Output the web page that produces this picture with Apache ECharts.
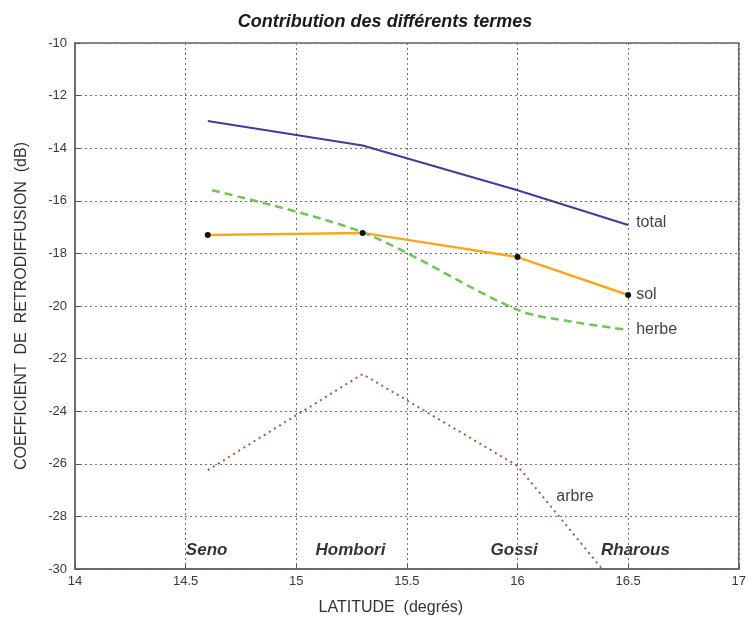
<!DOCTYPE html>
<html><head><meta charset="utf-8">
<script src="https://cdn.jsdelivr.net/npm/echarts@6/dist/echarts.min.js"></script>
<style>html,body{margin:0;padding:0;background:#fff}#c{width:749px;height:624px}</style>
</head><body><div id="c"></div>
<script>
const latitudes = [14.6, 15.3, 16.0, 16.5];
const total = [-12.97, -13.9, -15.6, -16.92];
const sol = [-17.3, -17.22, -18.14, -19.58];
const herbeLat = [14.62, 15.3, 16.0, 16.25, 16.5];
const herbe = [-15.6, -17.2, -20.15, -20.6, -20.91];
const arbre = [-26.24, -22.59, -26.08, -31.2];
const sites = ['Seno', 'Hombori', 'Gossi', 'Rharous'];
const siteLat = [14.595, 15.245, 15.985, 16.533];
const siteY = -29.28;
const xTicks = {min: 14, max: 17, step: 0.5};
const yTicks = {min: -30, max: -10, step: 2};

const font = 'Liberation Sans, Arial, sans-serif';
const zip = (xs, ys) => xs.map((x, i) => [x, ys[i]]);

const chart = echarts.init(document.getElementById('c'));
chart.setOption({
  animation: false,
  backgroundColor: '#fff',
  title: {
    text: 'Contribution des différents termes', left: 380, textAlign: 'center', top: 8,
    textStyle: {fontFamily: font, fontSize: 18, fontWeight: 'bold', fontStyle: 'italic', color: '#1a1a1a'}
  },
  grid: {left: 75, right: 6, top: 43, bottom: 55, show: true, borderColor: '#666', borderWidth: 1.5},
  xAxis: {
    type: 'value', min: xTicks.min, max: xTicks.max, interval: xTicks.step,
    name: 'LATITUDE  (degrés)', nameLocation: 'middle', nameGap: 31,
    nameTextStyle: {fontFamily: font, fontSize: 16, color: '#333', padding: [0, 32, 0, 0]},
    axisLine: {show: true, onZero: false, lineStyle: {color: '#666', width: 1.5}},
    axisTick: {show: true, inside: true, length: 5, lineStyle: {color: '#555'}},
    axisLabel: {fontFamily: font, fontSize: 13, color: '#3a3a3a', margin: 6,
      formatter: v => String(Math.round(v * 10) / 10)},
    splitLine: {show: true, lineStyle: {type: [2, 3], color: '#707070', width: 1}}
  },
  yAxis: {
    type: 'value', min: yTicks.min, max: yTicks.max, interval: yTicks.step,
    name: 'COEFFICIENT  DE  RETRODIFFUSION  (dB)', nameLocation: 'middle', nameGap: 45,
    nameTextStyle: {fontFamily: font, fontSize: 16, color: '#333'},
    axisLine: {show: true, onZero: false, lineStyle: {color: '#666', width: 1.5}},
    axisTick: {show: true, inside: true, length: 5, lineStyle: {color: '#555'}},
    axisLabel: {fontFamily: font, fontSize: 13, color: '#3a3a3a', margin: 8},
    splitLine: {show: true, lineStyle: {type: [2, 3], color: '#707070', width: 1}}
  },
  series: [
    {
      name: 'total', type: 'line', data: zip(latitudes, total), symbol: 'none',
      lineStyle: {color: '#3b3f98', width: 2},
      endLabel: {show: true, formatter: 'total', fontFamily: font, fontSize: 16, color: '#444', distance: 8, offset: [0, -2]}
    },
    {
      name: 'sol', type: 'line', data: zip(latitudes, sol), symbol: 'circle', symbolSize: 6,
      itemStyle: {color: '#111'}, lineStyle: {color: '#f7a823', width: 2.5},
      endLabel: {show: true, formatter: 'sol', fontFamily: font, fontSize: 16, color: '#444', distance: 8}
    },
    {
      name: 'herbe', type: 'line', data: zip(herbeLat, herbe), symbol: 'none', smooth: 0.3,
      lineStyle: {color: '#6cc851', width: 2.5, type: [8, 5]},
      endLabel: {show: true, formatter: 'herbe', fontFamily: font, fontSize: 16, color: '#444', distance: 8}
    },
    {
      name: 'arbre', type: 'line', data: zip(latitudes, arbre), symbol: 'none', clip: true,
      lineStyle: {color: '#a85a3a', width: 2, type: [2, 4]},
      markPoint: {
        symbol: 'circle', symbolSize: 0,
        label: {show: true, formatter: 'arbre', fontFamily: font, fontSize: 16, color: '#444'},
        data: [{coord: [16.26, -27.26]}]
      }
    },
    {
      name: 'sites', type: 'scatter', symbolSize: 0, silent: true,
      data: zip(siteLat, siteLat.map(() => siteY)),
      label: {show: true, position: 'inside',
        formatter: p => sites[p.dataIndex],
        fontFamily: font, fontSize: 17, fontWeight: 'bold', fontStyle: 'italic', color: '#000'}
    }
  ]
});
</script></body></html>
